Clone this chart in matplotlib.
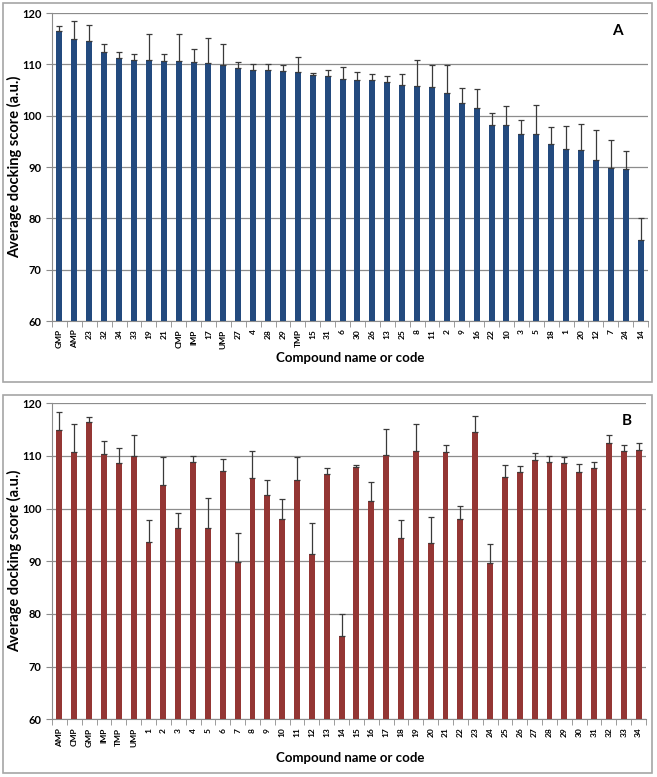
import matplotlib
matplotlib.use("Agg")
import matplotlib.pyplot as plt
from matplotlib.patches import Rectangle
import numpy as np

plt.rcParams['font.family'] = ['Lato', 'DejaVu Sans']

# panel A: compounds sorted by score
codes_a = ['GMP', 'AMP', '23', '32', '34', '33', '19', '21', 'CMP', 'IMP', '17', 'UMP',
           '27', '4', '28', '29', 'TMP', '15', '31', '6', '30', '26', '13', '25', '8',
           '11', '2', '9', '16', '22', '10', '3', '5', '18', '1', '20', '12', '7', '24', '14']
means_a = [116.4, 114.9, 114.5, 112.5, 111.2, 110.9, 110.9, 110.7, 110.7, 110.4, 110.2, 109.9,
           109.2, 108.9, 108.8, 108.7, 108.6, 108.0, 107.8, 107.2, 107.0, 107.0, 106.5, 106.0, 105.8,
           105.5, 104.5, 102.5, 101.5, 98.1, 98.1, 96.4, 96.4, 94.4, 93.6, 93.4, 91.4, 89.9, 89.6, 75.8]
errs_a = [1.0, 3.5, 3.1, 1.4, 1.2, 1.2, 5.1, 1.4, 5.3, 2.5, 5.0, 4.0,
          1.3, 1.1, 1.2, 1.1, 2.9, 0.3, 1.0, 2.3, 1.5, 1.1, 1.2, 2.2, 5.1,
          4.3, 5.3, 2.9, 3.6, 2.4, 3.7, 2.8, 5.7, 3.4, 4.3, 5.0, 5.8, 5.4, 3.6, 4.2]

# panel B: same compounds in name order
codes_b = ['AMP', 'CMP', 'GMP', 'IMP', 'TMP', 'UMP'] + [str(i) for i in range(1, 35)]

lookup = dict(zip(codes_a, zip(means_a, errs_a)))
means_b = [lookup[c][0] for c in codes_b]
errs_b = [lookup[c][1] for c in codes_b]

fig = plt.figure(figsize=(6.57, 7.77), dpi=100)

# panel frames
W, H = 657, 777
for (x0, y0, x1, y1) in [(3, 3, 652, 382), (3, 395, 652, 773)]:
    fig.patches.append(Rectangle((x0 / W, 1 - y1 / H), (x1 - x0) / W, (y1 - y0) / H,
                                 transform=fig.transFigure, fill=False,
                                 edgecolor='#a6a6a6', linewidth=1.2))


def panel(ax, codes, means, errs, color, letter, lx, ly, ylab_y, xlab_y):
    x = np.arange(len(codes))
    ax.bar(x, means, width=0.4, color=color, zorder=3)
    ax.errorbar(x, means, yerr=[np.zeros(len(errs)), errs], fmt='none',
                ecolor='#3a3a3a', elinewidth=0.9, capsize=2, capthick=0.9, zorder=4)
    ax.set_ylim(60, 120)
    ax.set_xlim(-0.5, len(codes) - 0.5)
    ax.set_yticks(np.arange(60, 121, 10))
    ax.yaxis.grid(True, color='#8c8c8c', linewidth=0.9, zorder=0)
    ax.set_xticks(x)
    ax.set_xticklabels(codes, rotation=90, fontsize=6, fontweight='bold')
    ax.set_xticks(np.arange(-0.5, len(codes), 1), minor=True)
    ax.tick_params(axis='x', which='major', length=0, pad=6)
    ax.tick_params(axis='x', which='minor', length=4, color='#8c8c8c')
    ax.tick_params(axis='y', length=4, color='#8c8c8c', labelsize=8)
    for t in ax.get_yticklabels():
        t.set_fontweight('bold')
    for s in ['top', 'right']:
        ax.spines[s].set_visible(False)
    ax.spines['left'].set_color('#8c8c8c')
    ax.spines['bottom'].set_color('#8c8c8c')
    fig.text(15 / W, 1 - ylab_y / H, 'Average docking score (a.u.)', rotation=90,
             fontsize=10.5, fontweight='bold', ha='center', va='center')
    fig.text(350 / W, 1 - xlab_y / H, 'Compound name or code',
             fontsize=9.5, fontweight='bold', ha='center', va='center')
    fig.text(lx / W, 1 - ly / H, letter, fontsize=11, fontweight='bold', ha='center', va='center')


ax1 = fig.add_axes([52 / W, 1 - 321 / H, (648 - 52) / W, (321 - 13) / H])
panel(ax1, codes_a, means_a, errs_a, '#234a7e', 'A', 617, 31, 167, 358)

ax2 = fig.add_axes([52 / W, 1 - 719.3 / H, (646 - 52) / W, (719.3 - 403.3) / H])
panel(ax2, codes_b, means_b, errs_b, '#943634', 'B', 627, 421, 561, 758)

fig.savefig('out.png', dpi=100)
